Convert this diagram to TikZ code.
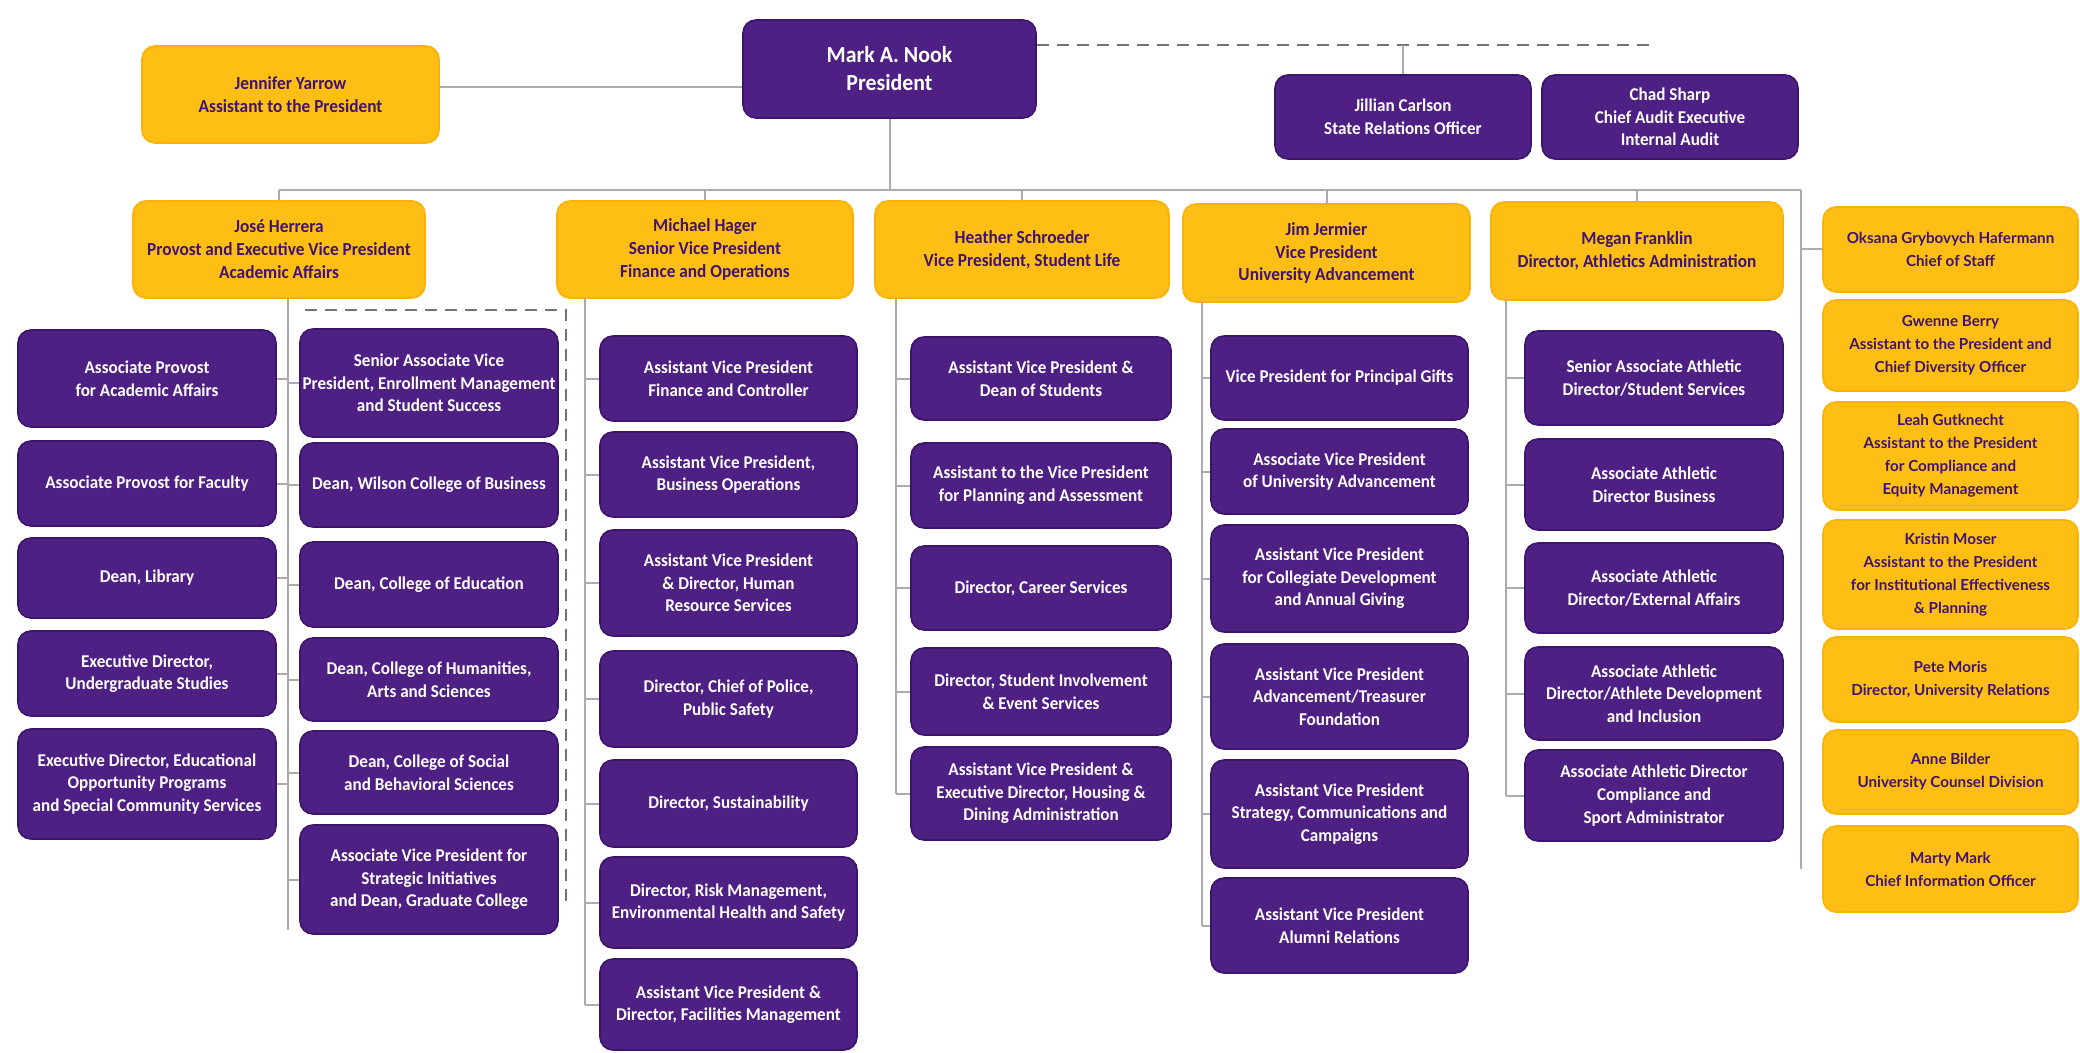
\documentclass[tikz,border=0pt]{standalone}
\usepackage{fontspec}
\setmainfont{Carlito}
\newfontfamily\pfont{Carlito}[FakeStretch=0.95]
\newfontfamily\hfont{Carlito}[FakeStretch=0.94]
\newfontfamily\rfont{Lato}
\definecolor{PU}{RGB}{78,32,132}
\definecolor{PUd}{RGB}{60,20,108}
\definecolor{YE}{RGB}{255,190,20}
\definecolor{YEd}{RGB}{250,178,8}
\definecolor{TX}{RGB}{62,20,112}
\definecolor{LN}{RGB}{170,170,178}
\definecolor{DS}{RGB}{115,115,125}
\newcommand\obox[7]{%
 \pgfmathsetmacro\oxc{(#3+#5)/2}%
 \pgfmathsetmacro\oyc{(#4+#6)/2}%
 \pgfmathsetmacro\ow{(#5-#3)*0.5}%
 \pgfmathsetmacro\oh{(#6-#4)*0.5}%
 \node[#1, minimum width=\ow pt, minimum height=\oh pt] (#2) at (\oxc,\oyc) {#7};}
\tikzset{
 basebox/.style={rectangle, rounded corners=6.5pt, line width=0.8pt, align=center, inner sep=0pt},
 pur/.style={basebox, fill=PU, draw=PUd, text=white, font={\pfont\bfseries\fontsize{9}{11.3}\selectfont}},
 bigpur/.style={pur, font={\pfont\bfseries\fontsize{11.5}{14}\selectfont}},
 yel/.style={basebox, fill=YE, draw=YEd, text=TX, font={\hfont\bfseries\fontsize{9.2}{11.4}\selectfont}},
 ryel/.style={yel, font={\rfont\bfseries\fontsize{7.6}{11.5}\selectfont}},
 conn/.style={draw=LN, line width=1pt},
 dconn/.style={draw=DS, line width=1.2pt, dash pattern=on 6pt off 4pt},
}
\begin{document}
\begin{tikzpicture}[x=0.5pt,y=-0.5pt]
\useasboundingbox (0,0) rectangle (2080,1053);
\fill[white] (0,0) rectangle (2080,1053);
% top
\obox{yel}{Jen}{142}{46}{439}{143}{Jennifer Yarrow\\Assistant to the President}
\obox{bigpur}{Nook}{743}{20}{1036}{118}{Mark A. Nook\\President}
\obox{pur}{Jill}{1275}{75}{1531}{159}{Jillian Carlson\\State Relations Officer}
\obox{pur}{Chad}{1542}{75}{1798}{159}{Chad Sharp\\Chief Audit Executive\\Internal Audit}
% headers
\obox{yel}{Jose}{133}{201}{425}{298}{José Herrera\\Provost and Executive Vice President\\Academic Affairs}
\obox{yel}{Hager}{557}{201}{853}{298}{Michael Hager\\Senior Vice President\\Finance and Operations}
\obox{yel}{Heather}{875}{201}{1169}{298}{Heather Schroeder\\Vice President, Student Life}
\obox{yel}{Jim}{1183}{204}{1470}{302}{Jim Jermier\\Vice President\\University Advancement}
\obox{yel}{Megan}{1491}{202}{1783}{300}{Megan Franklin\\Director, Athletics Administration}
\obox{ryel}{Oksana}{1823}{207}{2078}{292}{Oksana Grybovych Hafermann\\Chief of Staff}
% right column
\obox{ryel}{Gwenne}{1823}{300}{2078}{391}{Gwenne Berry\\Assistant to the President and\\Chief Diversity Officer}
\obox{ryel}{Leah}{1823}{402}{2078}{510}{Leah Gutknecht\\Assistant to the President\\for Compliance and\\Equity Management}
\obox{ryel}{Kristin}{1823}{520}{2078}{629}{Kristin Moser\\Assistant to the President\\for Institutional Effectiveness\\\& Planning}
\obox{ryel}{Pete}{1823}{637}{2078}{722}{Pete Moris\\Director, University Relations}
\obox{ryel}{Anne}{1823}{730}{2078}{814}{Anne Bilder\\University Counsel Division}
\obox{ryel}{Marty}{1823}{826}{2078}{912}{Marty Mark\\Chief Information Officer}
% column A
\obox{pur}{a1}{18}{330}{276}{427}{Associate Provost\\for Academic Affairs}
\obox{pur}{a2}{18}{441}{276}{526}{Associate Provost for Faculty}
\obox{pur}{a3}{18}{538}{276}{618}{Dean, Library}
\obox{pur}{a4}{18}{631}{276}{716}{Executive Director,\\Undergraduate Studies}
\obox{pur}{a5}{18}{729}{276}{839}{Executive Director, Educational\\Opportunity Programs\\and Special Community Services}
% column B
\obox{pur}{b1}{300}{329}{558}{437}{Senior Associate Vice\\President, Enrollment Management\\and Student Success}
\obox{pur}{b2}{300}{443}{558}{527}{Dean, Wilson College of Business}
\obox{pur}{b3}{300}{542}{558}{627}{Dean, College of Education}
\obox{pur}{b4}{300}{638}{558}{721}{Dean, College of Humanities,\\Arts and Sciences}
\obox{pur}{b5}{300}{731}{558}{814}{Dean, College of Social\\and Behavioral Sciences}
\obox{pur}{b6}{300}{825}{558}{934}{Associate Vice President for\\Strategic Initiatives\\and Dean, Graduate College}
% column C
\obox{pur}{c1}{600}{336}{857}{421}{Assistant Vice President\\Finance and Controller}
\obox{pur}{c2}{600}{432}{857}{517}{Assistant Vice President,\\Business Operations}
\obox{pur}{c3}{600}{530}{857}{636}{Assistant Vice President\\\& Director, Human\\Resource Services}
\obox{pur}{c4}{600}{651}{857}{747}{Director, Chief of Police,\\Public Safety}
\obox{pur}{c5}{600}{760}{857}{847}{Director, Sustainability}
\obox{pur}{c6}{600}{857}{857}{948}{Director, Risk Management,\\Environmental Health and Safety}
\obox{pur}{c7}{600}{959}{857}{1050}{Assistant Vice President \&\\Director, Facilities Management}
% column D
\obox{pur}{d1}{911}{337}{1171}{420}{Assistant Vice President \&\\Dean of Students}
\obox{pur}{d2}{911}{443}{1171}{528}{Assistant to the Vice President\\for Planning and Assessment}
\obox{pur}{d3}{911}{546}{1171}{630}{Director, Career Services}
\obox{pur}{d4}{911}{648}{1171}{735}{Director, Student Involvement\\\& Event Services}
\obox{pur}{d5}{911}{747}{1171}{840}{Assistant Vice President \&\\Executive Director, Housing \&\\Dining Administration}
% column E
\obox{pur}{e1}{1211}{336}{1468}{420}{Vice President for Principal Gifts}
\obox{pur}{e2}{1211}{429}{1468}{514}{Associate Vice President\\of University Advancement}
\obox{pur}{e3}{1211}{525}{1468}{632}{Assistant Vice President\\for Collegiate Development\\and Annual Giving}
\obox{pur}{e4}{1211}{644}{1468}{749}{Assistant Vice President\\Advancement/Treasurer\\Foundation}
\obox{pur}{e5}{1211}{760}{1468}{868}{Assistant Vice President\\Strategy, Communications and\\Campaigns}
\obox{pur}{e6}{1211}{878}{1468}{973}{Assistant Vice President\\Alumni Relations}
% column F
\obox{pur}{f1}{1525}{331}{1783}{425}{Senior Associate Athletic\\Director/Student Services}
\obox{pur}{f2}{1525}{439}{1783}{530}{Associate Athletic\\Director Business}
\obox{pur}{f3}{1525}{543}{1783}{633}{Associate Athletic\\Director/External Affairs}
\obox{pur}{f4}{1525}{647}{1783}{740}{Associate Athletic\\Director/Athlete Development\\and Inclusion}
\obox{pur}{f5}{1525}{750}{1783}{841}{Associate Athletic Director\\Compliance and\\Sport Administrator}
% connectors
\coordinate (jy) at (0,87);
\coordinate (busR) at (1801,190);
\coordinate (dashR) at (1652,45);
\coordinate (vAB) at (288,298);
\coordinate (vABend) at (288,930);
\coordinate (vC) at (585,298);
\coordinate (vD) at (896,298);
\coordinate (vE) at (1202,302);
\coordinate (vF) at (1506,300);
\coordinate (dTL) at (305,310);
\coordinate (dTR) at (566,310);
\coordinate (dBR) at (566,902);
\coordinate (dBE) at (573,902);
\draw[conn, line width=1.4pt] (Jen.east |- jy) -- (Nook.west |- jy);
\draw[conn] (Nook.south) -- (Nook.south |- busR);
\draw[conn] (Jose.north |- busR) -- (busR);
\foreach \h in {Jose,Hager,Heather,Jim,Megan} \draw[conn] (\h.north) -- (\h.north |- busR);
\draw[conn] (busR) -- (busR |- Marty);
\draw[conn] (Oksana.west -| busR) -- (Oksana.west);
\draw[dconn] (Nook.east |- dashR) -- (dashR);
\draw[conn] (Jill.north) -- (Jill.north |- dashR);
\draw[dconn] (dTL) -- (dTR) -- (dBR) -- (dBE);
% column lines
\draw[conn] (vAB) -- (vABend);
\foreach \n in {a1,a2,a3,a4,a5} \draw[conn] (\n.east) -- (\n.east -| vAB);
\foreach \n in {b1,b2,b3,b4,b5,b6} \draw[conn] (\n.west) -- (\n.west -| vAB);
\draw[conn] (vC) -- (vC |- c7);
\foreach \n in {c1,c2,c3,c4,c5,c6,c7} \draw[conn] (\n.west) -- (\n.west -| vC);
\draw[conn] (vD) -- (vD |- d5);
\foreach \n in {d1,d2,d3,d4,d5} \draw[conn] (\n.west) -- (\n.west -| vD);
\draw[conn] (vE) -- (vE |- e6);
\foreach \n in {e1,e2,e3,e4,e5,e6} \draw[conn] (\n.west) -- (\n.west -| vE);
\draw[conn] (vF) -- (vF |- f5);
\foreach \n in {f1,f2,f3,f4,f5} \draw[conn] (\n.west) -- (\n.west -| vF);
\end{tikzpicture}
\end{document}
